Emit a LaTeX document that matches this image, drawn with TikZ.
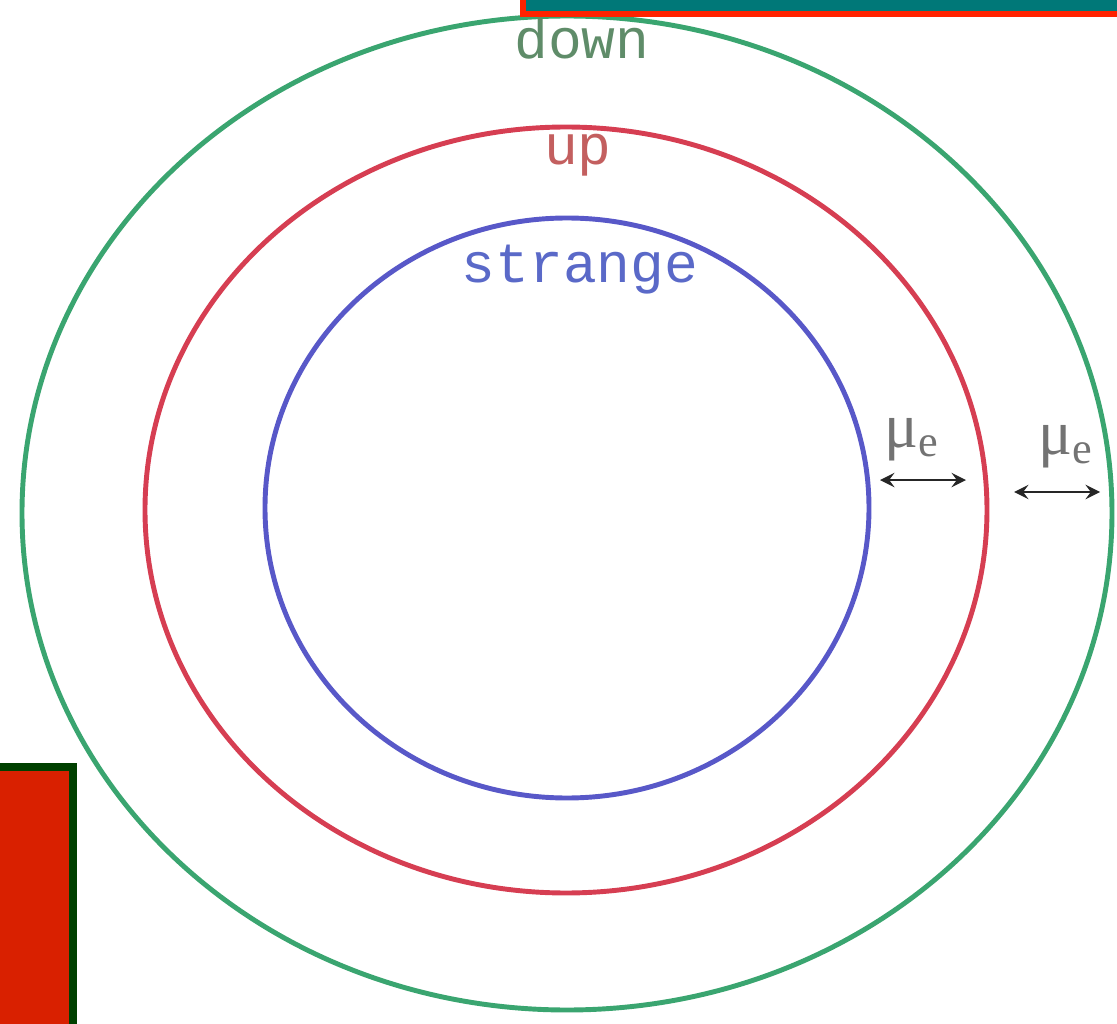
\documentclass[tikz,border=0pt]{standalone}
\usepackage{fontspec}
\setmonofont{Liberation Mono}
\newfontfamily\greekserif{Liberation Serif}
\usepackage{xcolor}
\usepackage{tikz}

\definecolor{downgreen}{RGB}{58,165,112}
\definecolor{upred}{RGB}{214,62,82}
\definecolor{strangeblue}{RGB}{88,88,200}
\definecolor{downtext}{RGB}{95,140,105}
\definecolor{uptext}{RGB}{195,95,95}
\definecolor{strangetext}{RGB}{90,105,200}
\definecolor{bannerteal}{RGB}{0,120,120}
\definecolor{bannerred}{RGB}{255,34,0}
\definecolor{blockred}{RGB}{217,32,0}
\definecolor{blockgreen}{RGB}{0,64,0}

\begin{document}
\begin{tikzpicture}[
    x=0.01cm, y=-0.01cm,
    ring/.style={line width=1.4pt},
    flavour/.style={font=\ttfamily\fontsize{16}{16}\selectfont, inner sep=0pt, anchor=base},
    potential/.style={text=black!55, font=\greekserif\fontsize{18}{18}\selectfont, inner sep=0pt},
    gap/.style={<->, >=stealth, line width=0.8pt, black!85}
]
    \useasboundingbox (0,0) rectangle (1117,1024);

    % Fermi surfaces
    \draw[ring, downgreen] (567,513) ellipse [x radius=545, y radius=497];
    \draw[ring, upred] (566,510) ellipse [x radius=421, y radius=383];
    \draw[ring, strangeblue] (567,508) ellipse [x radius=302, y radius=290];

    \node[flavour, text=downtext] (down) at (582,58) {down};
    \node[flavour, text=uptext] (up) at (578,165) {up};
    \node[flavour, text=strangetext] (strange) at (580,282) {strange};

    % chemical potential gaps
    \node[potential] (mu1) at (912,440) {μ\textsubscript{e}};
    \coordinate (gap1l) at (880,480);
    \coordinate (gap1r) at (966,480);
    \draw[gap] (gap1l) -- (gap1r);

    \node[potential] (mu2) at (1066,447) {μ\textsubscript{e}};
    \coordinate (gap2l) at (1014,492);
    \coordinate (gap2r) at (1100,492);
    \draw[gap] (gap2l) -- (gap2r);

    % blocks at the edges
    \draw[fill=bannerteal, draw=bannerred, line width=1.7pt] (523,-40) rectangle (1160,14);
    \draw[fill=blockred, draw=blockgreen, line width=2.2pt] (-40,767) rectangle (73,1060);
\end{tikzpicture}
\end{document}
